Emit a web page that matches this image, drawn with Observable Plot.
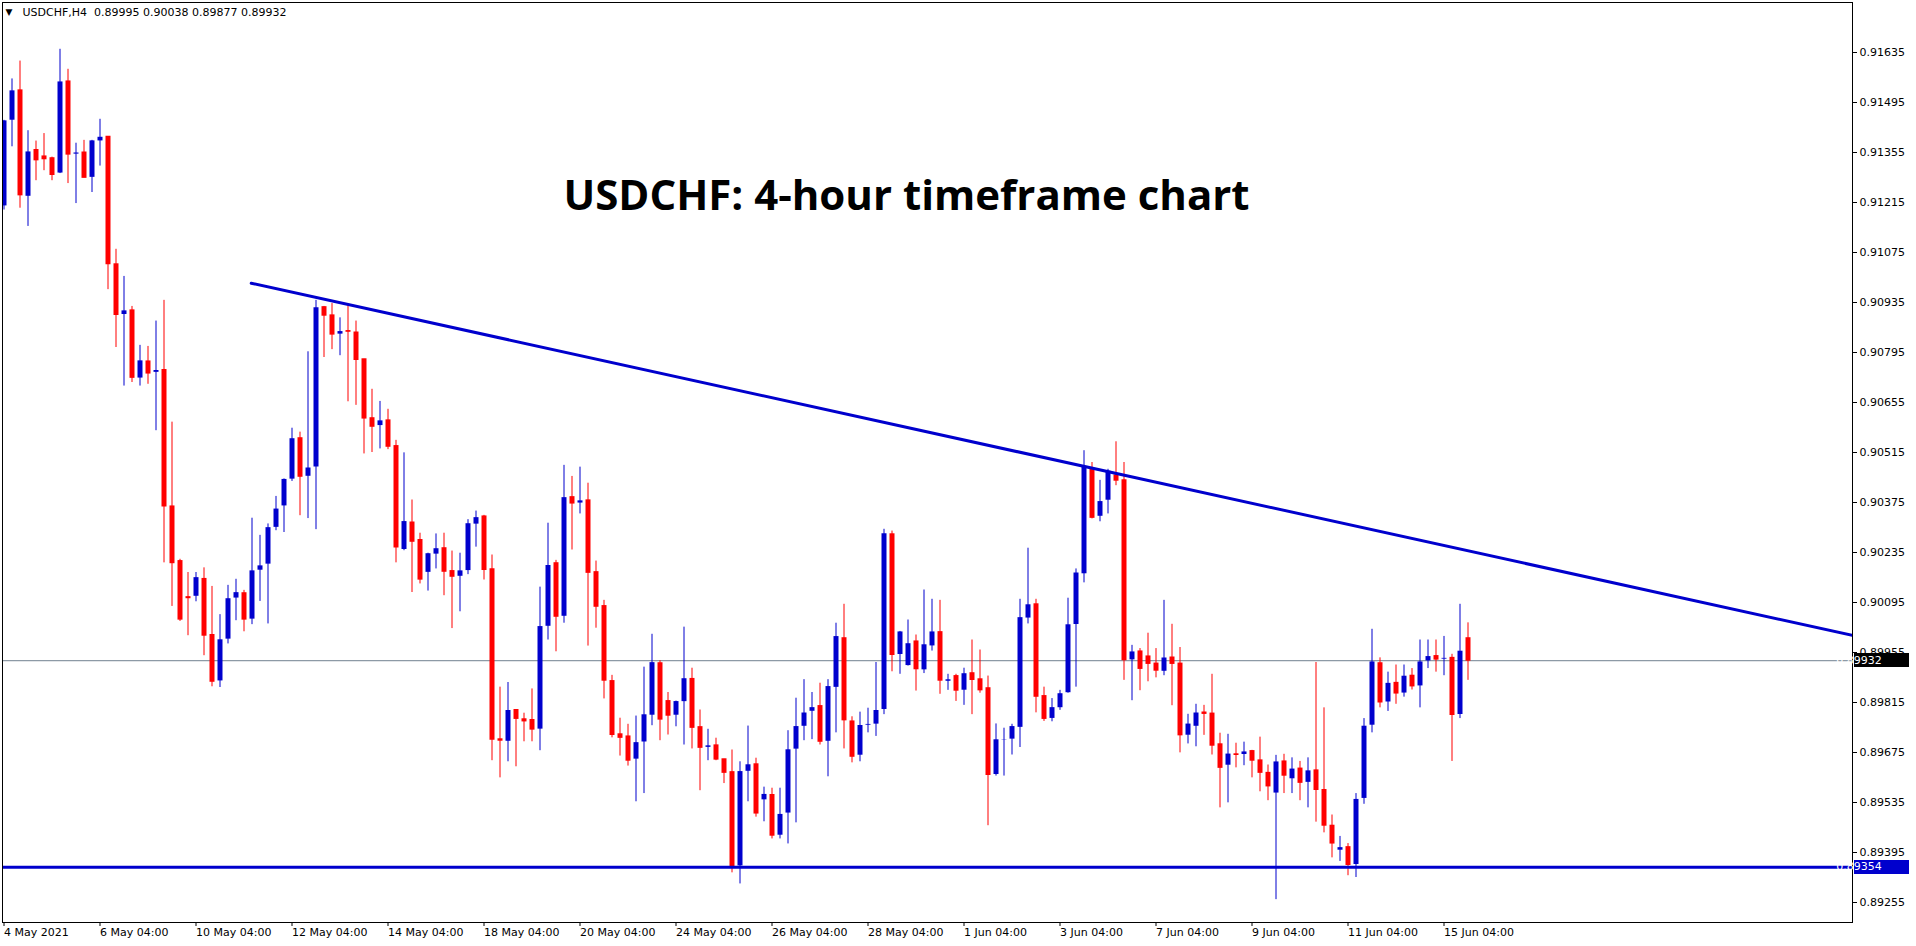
<!DOCTYPE html>
<html><head><meta charset="utf-8">
<script src="https://cdn.jsdelivr.net/npm/d3@7"></script>
<script src="https://cdn.jsdelivr.net/npm/@observablehq/plot@0.6"></script>
<style>
html,body{margin:0;padding:0;background:#fff;}
#chart{width:1916px;height:946px;overflow:hidden;}
</style></head><body><div id="chart"></div>
<script>
const symbolText = "USDCHF,H4";
const titleText = "USDCHF: 4-hour timeframe chart";

const opens = [
0.91204,0.91444,0.91529,0.91231,0.91362,0.91344,0.91339,0.91296,0.91554,0.91349,
0.91355,0.91284,0.91386,0.91399,0.91042,0.90900,0.90913,0.90722,0.90770,0.90738,
0.90746,0.90364,0.90211,0.90110,0.90111,0.90161,0.90004,0.89874,0.89991,0.90106,
0.90121,0.90047,0.90184,0.90201,0.90304,0.90364,0.90439,0.90555,0.90447,0.90473,
0.90922,0.90899,0.90845,0.90855,0.90851,0.90776,0.90611,0.90589,0.90605,0.90533,
0.90242,0.90319,0.90270,0.90178,0.90229,0.90247,0.90183,0.90167,0.90183,0.90313,
0.90336,0.90188,0.89712,0.89705,0.89794,0.89768,0.89766,0.89739,0.90027,0.90205,
0.90055,0.90390,0.90372,0.90381,0.90180,0.90085,0.89875,0.89726,0.89720,0.89655,
0.89703,0.89778,0.89925,0.89819,0.89778,0.89816,0.89881,0.89746,0.89688,0.89695,
0.89656,0.89620,0.89356,0.89621,0.89642,0.89541,0.89556,0.89442,0.89504,0.89683,
0.89747,0.89789,0.89805,0.89705,0.89856,0.89995,0.89762,0.89666,0.89750,0.89753,
0.89794,0.90286,0.89948,0.89917,0.89986,0.89905,0.89972,0.90012,0.89873,0.89889,
0.89848,0.89897,0.89880,0.89855,0.89612,0.89710,0.89711,0.89744,0.90050,0.90090,
0.89833,0.89769,0.89799,0.89841,0.90032,0.90174,0.90468,0.90335,0.90380,0.90451,
0.90437,0.89933,0.89958,0.89944,0.89924,0.89901,0.89941,0.89924,0.89722,0.89747,
0.89787,0.89784,0.89698,0.89638,0.89670,0.89668,0.89679,0.89653,
0.89618,0.89560,0.89650,0.89600,0.89630,0.89590,0.89625,0.89570,0.89470,0.89400,
0.89410,0.89360,0.89545,0.89750,0.89925,0.89815,0.89870,0.89840,0.89890,0.89860,
0.89930,0.89945,0.89935,0.89940,0.89780,0.89995];

const highs = [
0.91445,0.91561,0.91611,0.91416,0.91387,0.91408,0.91342,0.91644,0.91588,0.91381,
0.91389,0.91389,0.91448,0.91399,0.91084,0.91008,0.90924,0.90815,0.90812,0.90883,
0.90941,0.90600,0.90216,0.90179,0.90179,0.90192,0.90140,0.90061,0.90143,0.90160,
0.90129,0.90331,0.90283,0.90315,0.90392,0.90441,0.90583,0.90572,0.90797,0.90941,
0.90924,0.90932,0.90892,0.90928,0.90883,0.90776,0.90692,0.90658,0.90636,0.90549,
0.90514,0.90382,0.90289,0.90233,0.90287,0.90289,0.90239,0.90233,0.90327,0.90351,
0.90339,0.90228,0.89858,0.89871,0.89794,0.89785,0.89853,0.90138,0.90317,0.90213,
0.90479,0.90448,0.90474,0.90429,0.90211,0.90101,0.89891,0.89771,0.89754,0.89777,
0.89914,0.90006,0.89932,0.89843,0.89819,0.90026,0.89911,0.89794,0.89740,0.89715,
0.89656,0.89682,0.89649,0.89749,0.89659,0.89578,0.89575,0.89575,0.89736,0.89827,
0.89879,0.89843,0.89869,0.89879,0.90037,0.90090,0.89775,0.89788,0.89799,0.89927,
0.90300,0.90295,0.90014,0.90046,0.90004,0.90130,0.90104,0.90101,0.89894,0.89894,
0.89911,0.89990,0.89962,0.89889,0.89755,0.89743,0.89754,0.90104,0.90247,0.90104,
0.89858,0.89826,0.89849,0.90107,0.90189,0.90520,0.90487,0.90437,0.90468,0.90545,
0.90487,0.89975,0.89966,0.90009,0.89966,0.90101,0.90034,0.89969,0.89782,0.89810,
0.89807,0.89894,0.89729,0.89726,0.89701,0.89704,0.89681,0.89718,
0.89640,0.89667,0.89670,0.89660,0.89650,0.89660,0.89927,0.89800,0.89500,0.89440,
0.89420,0.89560,0.89770,0.90020,0.89940,0.89900,0.89920,0.89920,0.89910,0.89990,
0.89990,0.89990,0.90000,0.89950,0.90090,0.90038];

const lows = [
0.91194,0.91371,0.91199,0.91148,0.91276,0.91304,0.91276,0.91296,0.91268,0.91212,
0.91284,0.91243,0.91317,0.90971,0.90809,0.90701,0.90711,0.90701,0.90706,0.90576,
0.90206,0.90084,0.90042,0.90002,0.90097,0.89946,0.89859,0.89857,0.89979,0.90044,
0.90013,0.90033,0.90098,0.90035,0.90296,0.90291,0.90434,0.90338,0.90330,0.90299,
0.90781,0.90803,0.90786,0.90657,0.90647,0.90511,0.90515,0.90525,0.90523,0.90206,
0.90240,0.90123,0.90147,0.90127,0.90189,0.90114,0.90022,0.90069,0.90173,0.90250,
0.90158,0.89652,0.89604,0.89649,0.89635,0.89705,0.89705,0.89680,0.89990,0.89957,
0.90037,0.90242,0.90343,0.89973,0.90023,0.89825,0.89716,0.89665,0.89637,0.89537,
0.89560,0.89750,0.89708,0.89724,0.89747,0.89696,0.89685,0.89568,0.89652,0.89652,
0.89588,0.89338,0.89307,0.89537,0.89494,0.89481,0.89433,0.89433,0.89419,0.89478,
0.89708,0.89711,0.89696,0.89607,0.89730,0.89685,0.89646,0.89649,0.89730,0.89720,
0.89781,0.89901,0.89894,0.89917,0.89847,0.89896,0.89959,0.89838,0.89849,0.89818,
0.89807,0.89781,0.89841,0.89470,0.89609,0.89609,0.89668,0.89689,0.90035,0.89786,
0.89762,0.89761,0.89793,0.89841,0.89858,0.90150,0.90329,0.90321,0.90343,0.90422,
0.89877,0.89820,0.89848,0.89873,0.89884,0.89890,0.89806,0.89674,0.89699,0.89691,
0.89723,0.89668,0.89520,0.89534,0.89632,0.89638,0.89604,0.89565,
0.89540,0.89263,0.89560,0.89560,0.89540,0.89520,0.89480,0.89450,0.89380,0.89370,
0.89330,0.89325,0.89530,0.89730,0.89800,0.89790,0.89810,0.89830,0.89850,0.89800,
0.89910,0.89900,0.89890,0.89650,0.89770,0.89877];

const closes = [
0.91445,0.91529,0.91235,0.91358,0.91333,0.91336,0.91292,0.91554,0.91349,0.91355,
0.91284,0.91389,0.91399,0.91042,0.90900,0.90913,0.90724,0.90773,0.90736,0.90746,
0.90364,0.90205,0.90047,0.90107,0.90166,0.90002,0.89873,0.89992,0.90107,0.90124,
0.90047,0.90185,0.90199,0.90306,0.90358,0.90441,0.90555,0.90447,0.90473,0.90922,
0.90898,0.90845,0.90855,0.90853,0.90774,0.90610,0.90587,0.90605,0.90531,0.90249,
0.90323,0.90265,0.90159,0.90233,0.90247,0.90181,0.90167,0.90185,0.90317,0.90334,
0.90186,0.89711,0.89708,0.89794,0.89769,0.89762,0.89739,0.90029,0.90200,0.90055,
0.90390,0.90372,0.90381,0.90178,0.90083,0.89876,0.89724,0.89716,0.89652,0.89704,
0.89782,0.89928,0.89767,0.89778,0.89819,0.89883,0.89744,0.89688,0.89695,0.89655,
0.89618,0.89356,0.89623,0.89642,0.89504,0.89559,0.89442,0.89503,0.89684,0.89749,
0.89787,0.89802,0.89705,0.89861,0.90001,0.89765,0.89663,0.89752,0.89755,0.89794,
0.90289,0.89948,0.90014,0.89981,0.89908,0.89978,0.90014,0.89876,0.89880,0.89848,
0.89897,0.89878,0.89849,0.89612,0.89712,0.89712,0.89749,0.90054,0.90090,0.89831,
0.89769,0.89802,0.89841,0.90034,0.90179,0.90475,0.90332,0.90379,0.90464,0.90436,
0.89933,0.89958,0.89909,0.89923,0.89904,0.89941,0.89923,0.89723,0.89756,0.89787,
0.89783,0.89694,0.89632,0.89672,0.89668,0.89678,0.89652,0.89618,
0.89580,0.89650,0.89610,0.89630,0.89590,0.89625,0.89570,0.89470,0.89420,0.89410,
0.89360,0.89545,0.89750,0.89930,0.89815,0.89870,0.89840,0.89890,0.89860,0.89930,
0.89945,0.89935,0.89940,0.89780,0.89960,0.89932];

const xTickIndex = [0,12,24,36,48,60,72,84,96,108,120,132,144,156,168,180];
const xTickLabels = ["4 May 2021","6 May 04:00","10 May 04:00","12 May 04:00","14 May 04:00",
  "18 May 04:00","20 May 04:00","24 May 04:00","26 May 04:00","28 May 04:00",
  "1 Jun 04:00","3 Jun 04:00","7 Jun 04:00","9 Jun 04:00","11 Jun 04:00","15 Jun 04:00"];
const yTicks = [0.91635,0.91495,0.91355,0.91215,0.91075,0.90935,0.90795,0.90655,0.90515,
  0.90375,0.90235,0.90095,0.89955,0.89815,0.89675,0.89535,0.89395,0.89255];
const supportLevel = 0.89354;
const lastPrice = 0.89932;
const trendIndex = [30.9, 231.0625];
const trendPrice = [0.90989, 0.90003];

const BULL = "#0000cd", BEAR = "#ff0000";
const candles = opens.map((o, i) => ({i, o, h: highs[i], l: lows[i], c: closes[i], col: closes[i] >= o ? BULL : BEAR}));
const trend = trendIndex.map((i, k) => ({i, p: trendPrice[k]}));
const labelMap = new Map(xTickIndex.map((d, k) => [d, xTickLabels[k]]));
const fmt = d3.format(".5f");
const last = candles[candles.length - 1];
const headerText = `${symbolText}\u00a0\u00a0${fmt(last.o)} ${fmt(last.h)} ${fmt(last.l)} ${fmt(last.c)}`;

const W = 1916, H = 946, mL = 2, mR = 64, mT = 2, mB = 24;
const FONT = "Tahoma, 'DejaVu Sans', sans-serif";

const plot = Plot.plot({
  width: W, height: H, marginLeft: mL, marginRight: mR, marginTop: mT, marginBottom: mB,
  style: {fontFamily: FONT, fontSize: "11px", color: "#000", background: "#fff"},
  x: {type: "linear", domain: [-0.1875, 231.0625]},
  y: {domain: [0.89199, 0.91775]},
  color: {type: "identity"},
  marks: [
    Plot.ruleY([lastPrice], {stroke: "#708090", strokeWidth: 1}),
    Plot.ruleX(candles, {x: "i", y1: "l", y2: "h", stroke: "col", strokeWidth: 1, clip: true}),
    Plot.ruleX(candles, {x: "i", y1: "o", y2: "c", stroke: "col", strokeWidth: 5, insetTop: -0.5, insetBottom: -0.5, clip: true}),
    Plot.ruleY([supportLevel], {stroke: BULL, strokeWidth: 3}),
    Plot.line(trend, {x: "i", y: "p", stroke: BULL, strokeWidth: 3, clip: true}),
    Plot.axisY({anchor: "right", ticks: yTicks, tickFormat: fmt, tickSize: 4, tickPadding: 3, label: null, fill: "#000", stroke: "#000"}),
    Plot.axisX({anchor: "bottom", ticks: xTickIndex, tickFormat: d => labelMap.get(d), tickSize: 4, tickPadding: 2, textAnchor: "start", label: null, fill: "#000", stroke: "#000"}),
    Plot.frame({stroke: "#000"}),
    Plot.text(["\u25BC"], {frameAnchor: "top-left", dx: 3, dy: 10, textAnchor: "start", lineAnchor: "middle", fontSize: 9, fill: "#000"}),
    Plot.text([headerText], {frameAnchor: "top-left", dx: 20, dy: 10, textAnchor: "start", lineAnchor: "middle", fill: "#000"}),
    Plot.text([titleText], {frameAnchor: "top-left", dx: 904, dy: 194, textAnchor: "middle", lineAnchor: "middle",
      fontSize: 42, fontWeight: 700, fontFamily: "'Open Sans', sans-serif", fill: "#000"})
  ]
});

// price boxes on the right axis, positioned through the y scale
const ys = plot.scale("y");
const svg = d3.select(plot.tagName.toLowerCase() === "svg" ? plot : plot.querySelector("svg"));
const boxes = [{p: lastPrice, fill: "#000"}, {p: supportLevel, fill: BULL}];
const g = svg.append("g").attr("font-family", FONT).attr("font-size", 11);
for (const b of boxes) {
  const y = ys.apply(b.p);
  g.append("rect").attr("x", W - mR + 2).attr("y", Math.round(y) - 7).attr("width", 55).attr("height", 14).attr("fill", b.fill);
  g.append("text").attr("x", W - mR + 7).attr("y", y).attr("dy", "0.32em").attr("fill", "#fff").text(fmt(b.p));
}

document.getElementById("chart").appendChild(plot);
</script>
</body></html>
